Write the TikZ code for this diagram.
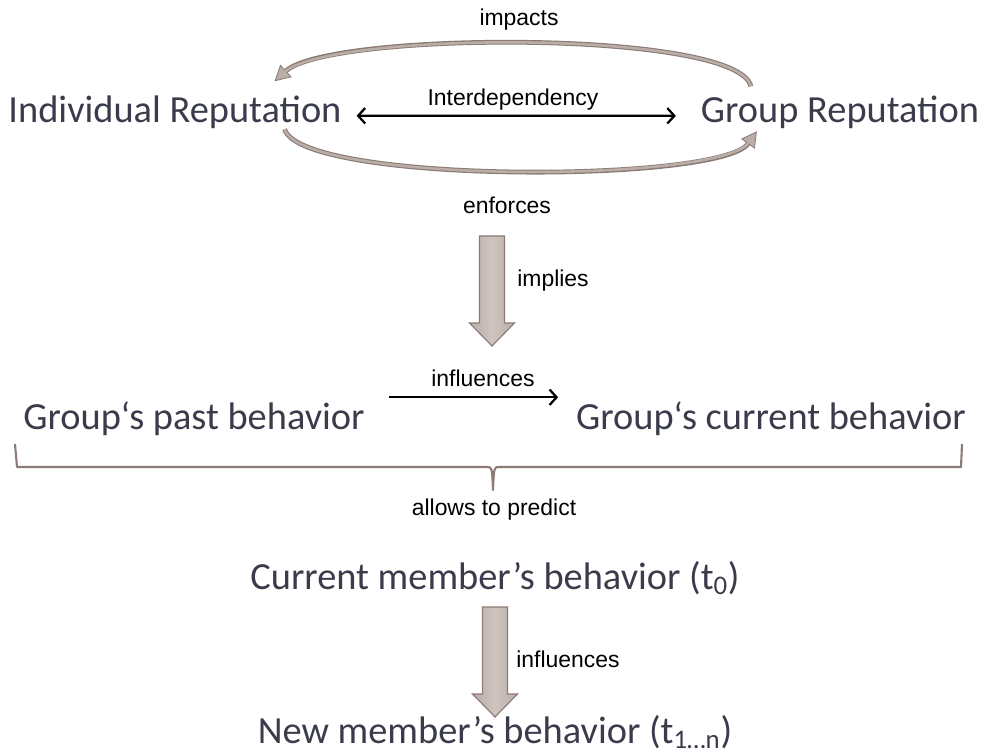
\documentclass[tikz,border=0pt]{standalone}
\usepackage{fontspec}
\setmainfont{Carlito}
\newfontfamily\labelfont{Liberation Sans}
\usetikzlibrary{arrows.meta}
\usetikzlibrary{calc}
\usetikzlibrary{positioning}
\definecolor{textgray}{HTML}{3A3C4C}
\definecolor{taupe}{HTML}{BBAEA8}
\definecolor{taupelight}{HTML}{CFC4BF}
\definecolor{taupedark}{HTML}{8B7B74}
\tikzset{
	downarrow/.pic = {
			\draw[taupedark, line width=0.8pt, left color=taupe, right color=taupe, middle color=taupelight]
				(-12.5,0) -- (12.5,0) -- (12.5,87) -- (22.5,87) -- (0,110) -- (-22.5,87) -- (-12.5,87) -- cycle;
			}
		}

\begin{document}
\begin{tikzpicture}
		[x=0.025cm, y=-0.025cm,
		> = {Straight Barb[length=5pt,width=11pt]},
		big/.style = {font=\fontsize{27.3}{31}\selectfont, text=textgray, inner sep=2pt},
		small/.style = {font=\labelfont\fontsize{16.3}{19}\selectfont, text=black, inner sep=1pt},
		thinarrow/.style = {line width=1.6pt, black},
		arcarrow/.style = {draw=taupedark, line width=3.4pt,
			-{Triangle[length=11pt,width=12pt,fill=taupe,line width=0.6pt]},
			postaction={draw=taupe, line width=1.8pt, -, shorten >=10pt}},
		bracket/.style = {draw=taupedark, line width=1.5pt, line join=round}
		]
		\useasboundingbox (0,0) rectangle (981,755);

		% reputation
		\node[big, anchor=base] (ind) at (175,123) {Individual Reputation};
		\node[big, anchor=base] (grp) at (840,123) {Group Reputation};
		\node[small, anchor=base] (interdep) at (513,106) {Interdependency};
		\node[small, anchor=base] (impacts) at (519,26) {impacts};
		\node[small, anchor=base] (enforces) at (507,214) {enforces};

		\draw[thinarrow, <->] ($(ind.east)+(12,3)$) -- ($(grp.west)+(-22,3)$);
		\draw[arcarrow] ($(grp.north west)+(53,-7)$) .. controls +(-13,-57) and +(55,-50) .. ($(ind.north east)+(-70,-12)$);
		\draw[arcarrow] ($(ind.south east)+(-60,-3)$) .. controls +(17,55) and +(-37,52) .. ($(grp.south west)+(59,-1)$);

		\pic at (492,236) {downarrow};
		\node[small, anchor=base] (implies) at (553,286) {implies};

		% behavior
		\node[big, anchor=base] (past) at (194,429) {Group‘s past behavior};
		\node[big, anchor=base] (cur) at (771,429) {Group‘s current behavior};
		\node[small, anchor=base] (infl) at (483,386) {influences};
		\draw[thinarrow, ->] ($(past.east)+(21,-21)$) -- ($(cur.west)+(-15,-21)$);

		\draw[bracket] (15,444) -- (17,467) -- (487,467) .. controls (492,467) .. (493,490)
			.. controls (494,467) .. (499,467) -- (961,467) -- (962,444);
		\node[small, anchor=base] (allows) at (494,515) {allows to predict};

		% members
		\node[big, anchor=base] (curmem) at (495,589) {Current member’s behavior (t\textsubscript{0})};
		\pic at (495,607) {downarrow};
		\node[small, anchor=base] (infl2) at (568,667) {influences};
		\node[big, anchor=base] (newmem) at (495,743) {New member’s behavior (t\textsubscript{1…n})};
	\end{tikzpicture}
\end{document}
